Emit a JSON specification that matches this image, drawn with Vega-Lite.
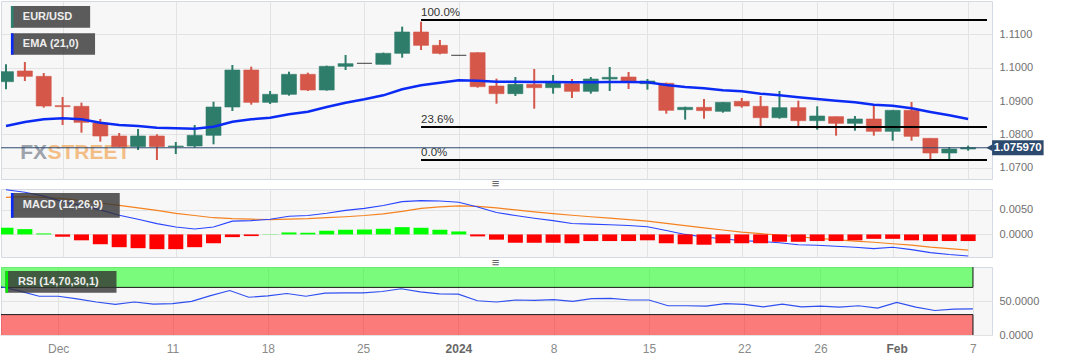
{
  "$schema": "https://vega.github.io/schema/vega-lite/v6.json",
  "padding": 0,
  "background": "white",
  "spacing": 10,
  "bounds": "flush",
  "config": {
    "font": "Liberation Sans",
    "view": {"fill": "#f7f7f7", "stroke": "#d4d9e4", "strokeWidth": 1},
    "axis": {"domain": false, "ticks": false, "labelFont": "Liberation Sans", "labelColor": "#707070", "labelFontSize": 11, "gridColor": "#e3e3e3", "gridWidth": 1}
  },
  "datasets": {
    "k": [
      {"i":0,"o":1.0958,"h":1.1010,"l":1.0935,"c":1.0988,"ema":1.0825,"macd":0.0091,"sig":0.00755,"hist":0.00136,"rsi":71},
      {"i":1,"o":1.0990,"h":1.1017,"l":1.0960,"c":1.0974,"ema":1.0837,"macd":0.0086,"sig":0.0077,"hist":0.00108,"rsi":64.5},
      {"i":2,"o":1.0974,"h":1.0984,"l":1.0880,"c":1.0885,"ema":1.0845,"macd":0.0078,"sig":0.00755,"hist":0.0002,"rsi":57},
      {"i":3,"o":1.0886,"h":1.0912,"l":1.0828,"c":1.0883,"ema":1.0848,"macd":0.0067,"sig":0.0073,"hist":-0.00047,"rsi":57},
      {"i":4,"o":1.0884,"h":1.0895,"l":1.0805,"c":1.0836,"ema":1.0845,"macd":0.0059,"sig":0.0069,"hist":-0.0012,"rsi":53},
      {"i":5,"o":1.0834,"h":1.0846,"l":1.0778,"c":1.0795,"ema":1.0835,"macd":0.0050,"sig":0.0064,"hist":-0.0020,"rsi":48.5},
      {"i":6,"o":1.0795,"h":1.0804,"l":1.0762,"c":1.0763,"ema":1.0828,"macd":0.0039,"sig":0.0059,"hist":-0.0026,"rsi":45},
      {"i":7,"o":1.0763,"h":1.0816,"l":1.0753,"c":1.0795,"ema":1.0825,"macd":0.0031,"sig":0.0054,"hist":-0.0028,"rsi":48.5},
      {"i":8,"o":1.0795,"h":1.0800,"l":1.0723,"c":1.0763,"ema":1.0820,"macd":0.0022,"sig":0.0049,"hist":-0.0030,"rsi":45.5},
      {"i":9,"o":1.0763,"h":1.0777,"l":1.0741,"c":1.0765,"ema":1.0818,"macd":0.0015,"sig":0.0043,"hist":-0.0030,"rsi":46},
      {"i":10,"o":1.0765,"h":1.0828,"l":1.0760,"c":1.0797,"ema":1.0817,"macd":0.0011,"sig":0.00385,"hist":-0.0026,"rsi":49.5},
      {"i":11,"o":1.0797,"h":1.0898,"l":1.0770,"c":1.0882,"ema":1.0823,"macd":0.0015,"sig":0.0034,"hist":-0.0018,"rsi":58},
      {"i":12,"o":1.0882,"h":1.1008,"l":1.0870,"c":1.0993,"ema":1.0838,"macd":0.0027,"sig":0.0032,"hist":-0.00055,"rsi":65.4},
      {"i":13,"o":1.0993,"h":1.1003,"l":1.0889,"c":1.0896,"ema":1.0845,"macd":0.0028,"sig":0.0031,"hist":-0.00034,"rsi":55.5},
      {"i":14,"o":1.0896,"h":1.0930,"l":1.0891,"c":1.0920,"ema":1.0850,"macd":0.0031,"sig":0.0030,"hist":0.00005,"rsi":57.5},
      {"i":15,"o":1.0920,"h":1.0988,"l":1.0916,"c":1.0980,"ema":1.0860,"macd":0.0037,"sig":0.0031,"hist":0.0004,"rsi":61},
      {"i":16,"o":1.0980,"h":1.0985,"l":1.0930,"c":1.0933,"ema":1.0868,"macd":0.00385,"sig":0.0032,"hist":0.00034,"rsi":57},
      {"i":17,"o":1.0933,"h":1.1006,"l":1.0931,"c":1.1004,"ema":1.0882,"macd":0.0043,"sig":0.0034,"hist":0.00075,"rsi":61.5},
      {"i":18,"o":1.1004,"h":1.1038,"l":1.0993,"c":1.1012,"ema":1.0895,"macd":0.0049,"sig":0.0036,"hist":0.00095,"rsi":62},
      {"i":19,"o":1.1013,"h":1.1013,"l":1.1013,"c":1.1013,"ema":1.0905,"macd":0.0053,"sig":0.00385,"hist":0.0010,"rsi":62},
      {"i":20,"o":1.1010,"h":1.1045,"l":1.1010,"c":1.1043,"ema":1.0917,"macd":0.0059,"sig":0.0042,"hist":0.00115,"rsi":64},
      {"i":21,"o":1.1043,"h":1.1123,"l":1.1030,"c":1.1107,"ema":1.0935,"macd":0.00668,"sig":0.0047,"hist":0.00148,"rsi":68},
      {"i":22,"o":1.1107,"h":1.1138,"l":1.1053,"c":1.1067,"ema":1.0947,"macd":0.00688,"sig":0.0053,"hist":0.00135,"rsi":63.5},
      {"i":23,"o":1.1067,"h":1.1083,"l":1.1040,"c":1.1043,"ema":1.0955,"macd":0.0068,"sig":0.0056,"hist":0.00095,"rsi":60.5},
      {"i":24,"o":1.1037,"h":1.1037,"l":1.1037,"c":1.1037,"ema":1.0962,"macd":0.00654,"sig":0.0058,"hist":0.0006,"rsi":60},
      {"i":25,"o":1.1045,"h":1.1046,"l":1.0940,"c":1.0943,"ema":1.0961,"macd":0.0056,"sig":0.0057,"hist":-0.0004,"rsi":50.4},
      {"i":26,"o":1.0945,"h":1.0967,"l":1.0892,"c":1.0922,"ema":1.0958,"macd":0.00445,"sig":0.0054,"hist":-0.00107,"rsi":48.5},
      {"i":27,"o":1.0922,"h":1.0972,"l":1.0915,"c":1.0950,"ema":1.0958,"macd":0.00385,"sig":0.0050,"hist":-0.0017,"rsi":51.5},
      {"i":28,"o":1.0950,"h":1.0996,"l":1.0877,"c":1.0940,"ema":1.0957,"macd":0.0033,"sig":0.0046,"hist":-0.0017,"rsi":51},
      {"i":29,"o":1.0940,"h":1.0978,"l":1.0922,"c":1.0955,"ema":1.0957,"macd":0.0028,"sig":0.00425,"hist":-0.0017,"rsi":52},
      {"i":30,"o":1.0952,"h":1.0966,"l":1.0909,"c":1.0929,"ema":1.0956,"macd":0.00223,"sig":0.0039,"hist":-0.0018,"rsi":49.5},
      {"i":31,"o":1.0929,"h":1.0972,"l":1.0922,"c":1.0966,"ema":1.0956,"macd":0.0021,"sig":0.0036,"hist":-0.00135,"rsi":53.4},
      {"i":32,"o":1.0966,"h":1.1002,"l":1.0930,"c":1.0971,"ema":1.0957,"macd":0.00196,"sig":0.0033,"hist":-0.00135,"rsi":54},
      {"i":33,"o":1.0972,"h":1.0987,"l":1.0936,"c":1.0957,"ema":1.0957,"macd":0.00182,"sig":0.0030,"hist":-0.00135,"rsi":51.5},
      {"i":34,"o":1.0952,"h":1.0966,"l":1.0934,"c":1.0960,"ema":1.0956,"macd":0.00155,"sig":0.0027,"hist":-0.0012,"rsi":51.5},
      {"i":35,"o":1.0953,"h":1.0955,"l":1.0862,"c":1.0872,"ema":1.0948,"macd":0.00081,"sig":0.00225,"hist":-0.0018,"rsi":43},
      {"i":36,"o":1.0874,"h":1.0883,"l":1.0844,"c":1.0881,"ema":1.0942,"macd":0.0,"sig":0.0018,"hist":-0.0020,"rsi":43},
      {"i":37,"o":1.0881,"h":1.0906,"l":1.0847,"c":1.0871,"ema":1.0938,"macd":-0.00054,"sig":0.00135,"hist":-0.0021,"rsi":42.5},
      {"i":38,"o":1.0869,"h":1.0897,"l":1.0865,"c":1.0896,"ema":1.0932,"macd":-0.00088,"sig":0.0009,"hist":-0.0018,"rsi":46},
      {"i":39,"o":1.0899,"h":1.0909,"l":1.0880,"c":1.0885,"ema":1.0929,"macd":-0.00128,"sig":0.00047,"hist":-0.0018,"rsi":45},
      {"i":40,"o":1.0884,"h":1.0915,"l":1.0825,"c":1.0850,"ema":1.0922,"macd":-0.00142,"sig":0.00016,"hist":-0.0018,"rsi":41.4},
      {"i":41,"o":1.0850,"h":1.0930,"l":1.0847,"c":1.0880,"ema":1.0917,"macd":-0.00169,"sig":-0.00014,"hist":-0.0015,"rsi":45.5},
      {"i":42,"o":1.0880,"h":1.0901,"l":1.0825,"c":1.0841,"ema":1.0911,"macd":-0.0021,"sig":-0.00047,"hist":-0.0015,"rsi":41.4},
      {"i":43,"o":1.0841,"h":1.0884,"l":1.0814,"c":1.0855,"ema":1.0906,"macd":-0.0022,"sig":-0.0008,"hist":-0.00135,"rsi":42.5},
      {"i":44,"o":1.0853,"h":1.0853,"l":1.0796,"c":1.0833,"ema":1.0901,"macd":-0.0024,"sig":-0.00107,"hist":-0.00135,"rsi":41},
      {"i":45,"o":1.0833,"h":1.0855,"l":1.0811,"c":1.0846,"ema":1.0896,"macd":-0.0026,"sig":-0.00135,"hist":-0.0012,"rsi":43},
      {"i":46,"o":1.0846,"h":1.0885,"l":1.0796,"c":1.0809,"ema":1.0889,"macd":-0.0029,"sig":-0.0016,"hist":-0.0009,"rsi":39.5},
      {"i":47,"o":1.0809,"h":1.0873,"l":1.0781,"c":1.0872,"ema":1.0886,"macd":-0.0026,"sig":-0.0019,"hist":-0.0009,"rsi":48},
      {"i":48,"o":1.0872,"h":1.0897,"l":1.0781,"c":1.0794,"ema":1.0878,"macd":-0.0031,"sig":-0.0022,"hist":-0.0012,"rsi":41},
      {"i":49,"o":1.0788,"h":1.0788,"l":1.0726,"c":1.0744,"ema":1.0867,"macd":-0.0037,"sig":-0.0026,"hist":-0.00135,"rsi":36},
      {"i":50,"o":1.0744,"h":1.0762,"l":1.0726,"c":1.0756,"ema":1.0857,"macd":-0.0041,"sig":-0.0029,"hist":-0.00135,"rsi":38},
      {"i":51,"o":1.0756,"h":1.0766,"l":1.0751,"c":1.0760,"ema":1.0846,"macd":-0.0044,"sig":-0.0032,"hist":-0.00135,"rsi":38.4}
    ],
    "fib": [
      {"lab": "100.0%", "v": 1.1143},
      {"lab": "23.6%", "v": 1.0822},
      {"lab": "0.0%", "v": 1.0723}
    ],
    "lv": [
      {"lv": 70, "top": 100},
      {"lv": 30, "top": 0}
    ]
  },
  "vconcat": [
    {
      "width": 991,
      "height": 178,
      "data": {"name": "k"},
      "layer": [
        {
          "data": {"values": [{"t": "FX"}]},
          "mark": {"type": "text", "font": "Liberation Sans", "fontWeight": "bold", "fontSize": 21, "align": "left", "baseline": "alphabetic", "color": "#9ea3ab"},
          "encoding": {
            "x": {"datum": 0.75, "type": "quantitative", "title": null, "scale": {"domain": [0, 52], "nice": false, "zero": false},
                  "axis": {"values": [3, 9, 14, 19, 24, 29, 34, 39, 43, 47, 51], "labels": false, "grid": true, "title": null}},
            "y": {"datum": 1.0726, "type": "quantitative", "title": null, "scale": {"domain": [1.0666, 1.12], "nice": false, "zero": false},
                  "axis": {"orient": "right", "values": [1.07, 1.08, 1.09, 1.1, 1.11], "format": ".4f", "grid": true, "labelPadding": 7, "title": null}},
            "text": {"field": "t"}
          }
        },
        {
          "data": {"values": [{"t": "STREET"}]},
          "mark": {"type": "text", "font": "Liberation Sans", "fontWeight": "bold", "fontSize": 21, "align": "left", "baseline": "alphabetic", "color": "#f3bd86"},
          "encoding": {
            "x": {"datum": 2.2, "type": "quantitative", "title": null, "scale": {"domain": [0, 52], "nice": false, "zero": false}},
            "y": {"datum": 1.0726, "type": "quantitative", "title": null, "scale": {"domain": [1.0666, 1.12], "nice": false, "zero": false}},
            "text": {"field": "t"}
          }
        },
        {
          "mark": {"type": "rule", "strokeWidth": 2, "clip": true},
          "encoding": {
            "x": {"field": "i", "type": "quantitative", "title": null, "scale": {"domain": [0, 52], "nice": false, "zero": false}},
            "y": {"field": "l", "type": "quantitative", "title": null, "scale": {"domain": [1.0666, 1.12], "nice": false, "zero": false}},
            "y2": {"field": "h"},
            "color": {"condition": [{"test": "datum.c > datum.o", "value": "#2e7d6b"}, {"test": "datum.c < datum.o", "value": "#d5574a"}], "value": "#333333"}
          }
        },
        {
          "mark": {"type": "bar", "size": 15, "clip": true, "strokeWidth": 1, "strokeOpacity": 0.6},
          "encoding": {
            "x": {"field": "i", "type": "quantitative", "title": null, "scale": {"domain": [0, 52], "nice": false, "zero": false}},
            "y": {"field": "o", "type": "quantitative", "title": null, "scale": {"domain": [1.0666, 1.12], "nice": false, "zero": false}},
            "y2": {"field": "c"},
            "color": {"condition": [{"test": "datum.c > datum.o", "value": "#2e7d6b"}, {"test": "datum.c < datum.o", "value": "#d5574a"}], "value": "#333333"},
            "stroke": {"condition": [{"test": "datum.c > datum.o", "value": "#2e7d6b"}, {"test": "datum.c < datum.o", "value": "#d5574a"}], "value": "#333333"}
          }
        },
        {
          "mark": {"type": "line", "color": "#0b2bf5", "strokeWidth": 2.5, "clip": true},
          "encoding": {
            "x": {"field": "i", "type": "quantitative", "title": null, "scale": {"domain": [0, 52], "nice": false, "zero": false}},
            "y": {"field": "ema", "type": "quantitative", "title": null, "scale": {"domain": [1.0666, 1.12], "nice": false, "zero": false}}
          }
        },
        {
          "data": {"name": "fib"},
          "mark": {"type": "rule", "color": "#000000", "strokeWidth": 2},
          "encoding": {
            "x": {"datum": 22, "type": "quantitative", "title": null, "scale": {"domain": [0, 52], "nice": false, "zero": false}},
            "x2": {"datum": 52},
            "y": {"field": "v", "type": "quantitative", "title": null, "scale": {"domain": [1.0666, 1.12], "nice": false, "zero": false}}
          }
        },
        {
          "data": {"name": "fib"},
          "mark": {"type": "text", "align": "left", "baseline": "bottom", "dy": -2, "fontSize": 11.5, "color": "#333333"},
          "encoding": {
            "x": {"datum": 22, "type": "quantitative", "title": null, "scale": {"domain": [0, 52], "nice": false, "zero": false}},
            "y": {"field": "v", "type": "quantitative", "title": null, "scale": {"domain": [1.0666, 1.12], "nice": false, "zero": false}},
            "text": {"field": "lab"}
          }
        },
        {
          "data": {"values": [{"p": 1.07597, "t": "1.075970"}]},
          "mark": {"type": "rule", "color": "#2c4a6e", "strokeWidth": 1},
          "encoding": {
            "y": {"field": "p", "type": "quantitative", "title": null, "scale": {"domain": [1.0666, 1.12], "nice": false, "zero": false}}
          }
        },
        {
          "data": {"values": [{"p": 1.07597, "t": "1.075970"}]},
          "mark": {"type": "rect", "color": "#2c4a6e"},
          "encoding": {
            "x": {"datum": 52.27, "type": "quantitative", "title": null, "scale": {"domain": [0, 52], "nice": false, "zero": false}},
            "x2": {"datum": 55.0},
            "y": {"datum": 1.0782, "type": "quantitative", "title": null, "scale": {"domain": [1.0666, 1.12], "nice": false, "zero": false}},
            "y2": {"datum": 1.07375}
          }
        },
        {
          "data": {"values": [{"p": 1.07597, "t": "1.075970"}]},
          "mark": {"type": "point", "shape": "triangle-left", "filled": true, "size": 45, "color": "#2c4a6e", "opacity": 1},
          "encoding": {
            "x": {"datum": 52.12, "type": "quantitative", "title": null, "scale": {"domain": [0, 52], "nice": false, "zero": false}},
            "y": {"field": "p", "type": "quantitative", "title": null, "scale": {"domain": [1.0666, 1.12], "nice": false, "zero": false}}
          }
        },
        {
          "data": {"values": [{"p": 1.07597, "t": "1.075970"}]},
          "mark": {"type": "text", "color": "#ffffff", "fontWeight": "bold", "fontSize": 11.5, "align": "center", "baseline": "middle"},
          "encoding": {
            "x": {"datum": 53.63, "type": "quantitative", "title": null, "scale": {"domain": [0, 52], "nice": false, "zero": false}},
            "y": {"field": "p", "type": "quantitative", "title": null, "scale": {"domain": [1.0666, 1.12], "nice": false, "zero": false}},
            "text": {"field": "t"}
          }
        },
        {
          "data": {"values": [{"t": "EUR/USD"}]},
          "mark": {"type": "rect", "color": "#333333", "opacity": 0.8},
          "encoding": {
            "x": {"datum": 0.262, "type": "quantitative", "title": null, "scale": {"domain": [0, 52], "nice": false, "zero": false}},
            "x2": {"datum": 4.46},
            "y": {"datum": 1.1185, "type": "quantitative", "title": null, "scale": {"domain": [1.0666, 1.12], "nice": false, "zero": false}},
            "y2": {"datum": 1.11199}
          }
        },
        {
          "data": {"values": [{"t": "EUR/USD"}]},
          "mark": {"type": "rect", "color": "#2e8070"},
          "encoding": {
            "x": {"datum": 0.262, "type": "quantitative", "title": null, "scale": {"domain": [0, 52], "nice": false, "zero": false}},
            "x2": {"datum": 0.40},
            "y": {"datum": 1.1185, "type": "quantitative", "title": null, "scale": {"domain": [1.0666, 1.12], "nice": false, "zero": false}},
            "y2": {"datum": 1.11199}
          }
        },
        {
          "data": {"values": [{"t": "EUR/USD"}]},
          "mark": {"type": "text", "color": "#eeeeee", "fontWeight": "bold", "fontSize": 11, "align": "left", "baseline": "middle"},
          "encoding": {
            "x": {"datum": 0.89, "type": "quantitative", "title": null, "scale": {"domain": [0, 52], "nice": false, "zero": false}},
            "y": {"datum": 1.1152, "type": "quantitative", "title": null, "scale": {"domain": [1.0666, 1.12], "nice": false, "zero": false}},
            "text": {"field": "t"}
          }
        },
        {
          "data": {"values": [{"t": "EMA (21,0)"}]},
          "mark": {"type": "rect", "color": "#333333", "opacity": 0.8},
          "encoding": {
            "x": {"datum": 0.262, "type": "quantitative", "title": null, "scale": {"domain": [0, 52], "nice": false, "zero": false}},
            "x2": {"datum": 4.72},
            "y": {"datum": 1.11031, "type": "quantitative", "title": null, "scale": {"domain": [1.0666, 1.12], "nice": false, "zero": false}},
            "y2": {"datum": 1.1039}
          }
        },
        {
          "data": {"values": [{"t": "EMA (21,0)"}]},
          "mark": {"type": "rect", "color": "#0b2bf5"},
          "encoding": {
            "x": {"datum": 0.262, "type": "quantitative", "title": null, "scale": {"domain": [0, 52], "nice": false, "zero": false}},
            "x2": {"datum": 0.40},
            "y": {"datum": 1.11031, "type": "quantitative", "title": null, "scale": {"domain": [1.0666, 1.12], "nice": false, "zero": false}},
            "y2": {"datum": 1.1039}
          }
        },
        {
          "data": {"values": [{"t": "EMA (21,0)"}]},
          "mark": {"type": "text", "color": "#eeeeee", "fontWeight": "bold", "fontSize": 11, "align": "left", "baseline": "middle"},
          "encoding": {
            "x": {"datum": 0.89, "type": "quantitative", "title": null, "scale": {"domain": [0, 52], "nice": false, "zero": false}},
            "y": {"datum": 1.10711, "type": "quantitative", "title": null, "scale": {"domain": [1.0666, 1.12], "nice": false, "zero": false}},
            "text": {"field": "t"}
          }
        }
      ]
    },
    {
      "width": 991,
      "height": 68,
      "data": {"name": "k"},
      "layer": [
        {
          "mark": {"type": "line", "color": "#f5821f", "strokeWidth": 1.2, "clip": true},
          "encoding": {
            "x": {"field": "i", "type": "quantitative", "title": null, "scale": {"domain": [0, 52], "nice": false, "zero": false},
                  "axis": {"values": [3, 9, 14, 19, 24, 29, 34, 39, 43, 47, 51], "labels": false, "grid": true, "title": null}},
            "y": {"field": "sig", "type": "quantitative", "title": null, "scale": {"domain": [-0.0046, 0.00925], "nice": false, "zero": false},
                  "axis": {"orient": "right", "values": [0, 0.005], "format": ".4f", "grid": true, "labelPadding": 7, "title": null}}
          }
        },
        {
          "mark": {"type": "line", "color": "#2a44ff", "strokeWidth": 1.1, "clip": true},
          "encoding": {
            "x": {"field": "i", "type": "quantitative", "title": null, "scale": {"domain": [0, 52], "nice": false, "zero": false}},
            "y": {"field": "macd", "type": "quantitative", "title": null, "scale": {"domain": [-0.0046, 0.00925], "nice": false, "zero": false}}
          }
        },
        {
          "mark": {"type": "bar", "size": 15, "clip": true},
          "encoding": {
            "x": {"field": "i", "type": "quantitative", "title": null, "scale": {"domain": [0, 52], "nice": false, "zero": false}},
            "y": {"field": "hist", "type": "quantitative", "title": null, "scale": {"domain": [-0.0046, 0.00925], "nice": false, "zero": false}},
            "y2": {"datum": 0},
            "color": {"condition": {"test": "datum.hist > 0", "value": "#00ff00"}, "value": "#ff0000"}
          }
        },
        {
          "data": {"values": [{"t": "MACD (12,26,9)"}]},
          "mark": {"type": "rect", "color": "#333333", "opacity": 0.8},
          "encoding": {
            "x": {"datum": 0.262, "type": "quantitative", "title": null, "scale": {"domain": [0, 52], "nice": false, "zero": false}},
            "x2": {"datum": 6.03},
            "y": {"datum": 0.00843, "type": "quantitative", "title": null, "scale": {"domain": [-0.0046, 0.00925], "nice": false, "zero": false}},
            "y2": {"datum": 0.0034}
          }
        },
        {
          "data": {"values": [{"t": "MACD (12,26,9)"}]},
          "mark": {"type": "rect", "color": "#0b2bf5"},
          "encoding": {
            "x": {"datum": 0.262, "type": "quantitative", "title": null, "scale": {"domain": [0, 52], "nice": false, "zero": false}},
            "x2": {"datum": 0.40},
            "y": {"datum": 0.00843, "type": "quantitative", "title": null, "scale": {"domain": [-0.0046, 0.00925], "nice": false, "zero": false}},
            "y2": {"datum": 0.0034}
          }
        },
        {
          "data": {"values": [{"t": "MACD (12,26,9)"}]},
          "mark": {"type": "text", "color": "#eeeeee", "fontWeight": "bold", "fontSize": 11, "align": "left", "baseline": "middle"},
          "encoding": {
            "x": {"datum": 0.89, "type": "quantitative", "title": null, "scale": {"domain": [0, 52], "nice": false, "zero": false}},
            "y": {"datum": 0.00593, "type": "quantitative", "title": null, "scale": {"domain": [-0.0046, 0.00925], "nice": false, "zero": false}},
            "text": {"field": "t"}
          }
        },
        {
          "data": {"values": [{"t": "≡"}]},
          "mark": {"type": "text", "color": "#666666", "fontSize": 13, "align": "center", "baseline": "middle"},
          "encoding": {
            "x": {"datum": 25.95, "type": "quantitative", "title": null, "scale": {"domain": [0, 52], "nice": false, "zero": false}},
            "y": {"datum": 0.01027, "type": "quantitative", "title": null, "scale": {"domain": [-0.0046, 0.00925], "nice": false, "zero": false}},
            "text": {"field": "t"}
          }
        }
      ]
    },
    {
      "width": 991,
      "height": 68,
      "data": {"name": "k"},
      "layer": [
        {
          "data": {"name": "lv"},
          "mark": {"type": "rect", "opacity": 0.5},
          "encoding": {
            "x": {"datum": 0, "type": "quantitative", "title": null, "scale": {"domain": [0, 52], "nice": false, "zero": false},
                  "axis": {"values": [3, 9, 14, 19, 24, 29, 34, 39, 43, 47, 51], "grid": true, "title": null, "labelPadding": 8, "labelFontSize": 12,
                           "labelExpr": "datum.value==3?'Dec':datum.value==9?'11':datum.value==14?'18':datum.value==19?'25':datum.value==24?'2024':datum.value==29?'8':datum.value==34?'15':datum.value==39?'22':datum.value==43?'26':datum.value==47?'Feb':datum.value==51?'7':''",
                           "labelFontWeight": {"condition": {"test": "datum.value==24 || datum.value==47", "value": "bold"}, "value": "normal"},
                           "labelColor": {"condition": {"test": "datum.value==24 || datum.value==47", "value": "#666666"}, "value": "#8a8a8a"}}},
            "x2": {"datum": 51},
            "y": {"field": "lv", "type": "quantitative", "title": null, "scale": {"domain": [0, 100], "nice": false, "zero": false},
                  "axis": {"orient": "right", "values": [0, 50], "format": ".4f", "grid": true, "labelPadding": 7, "title": null}},
            "y2": {"field": "top"},
            "color": {"condition": {"test": "datum.lv > 50", "value": "#00ff00"}, "value": "#ff0000"}
          }
        },
        {
          "data": {"name": "lv"},
          "mark": {"type": "rule", "color": "#1a1a1a", "strokeWidth": 1},
          "encoding": {
            "x": {"datum": 0, "type": "quantitative", "title": null, "scale": {"domain": [0, 52], "nice": false, "zero": false}},
            "x2": {"datum": 51},
            "y": {"field": "lv", "type": "quantitative", "title": null, "scale": {"domain": [0, 100], "nice": false, "zero": false}}
          }
        },
        {
          "data": {"name": "lv"},
          "mark": {"type": "rule", "color": "#1a1a1a", "strokeWidth": 1},
          "encoding": {
            "x": {"datum": 51, "type": "quantitative", "title": null, "scale": {"domain": [0, 52], "nice": false, "zero": false}},
            "y": {"field": "lv", "type": "quantitative", "title": null, "scale": {"domain": [0, 100], "nice": false, "zero": false}},
            "y2": {"field": "top"}
          }
        },
        {
          "mark": {"type": "line", "color": "#3050f0", "strokeWidth": 1.2, "clip": true},
          "encoding": {
            "x": {"field": "i", "type": "quantitative", "title": null, "scale": {"domain": [0, 52], "nice": false, "zero": false}},
            "y": {"field": "rsi", "type": "quantitative", "title": null, "scale": {"domain": [0, 100], "nice": false, "zero": false}}
          }
        },
        {
          "data": {"values": [{"t": "RSI (14,70,30,1)"}]},
          "mark": {"type": "rect", "color": "#333333", "opacity": 0.8},
          "encoding": {
            "x": {"datum": 0.236, "type": "quantitative", "title": null, "scale": {"domain": [0, 52], "nice": false, "zero": false}},
            "x2": {"datum": 6.06},
            "y": {"datum": 94.1, "type": "quantitative", "title": null, "scale": {"domain": [0, 100], "nice": false, "zero": false}},
            "y2": {"datum": 62.2}
          }
        },
        {
          "data": {"values": [{"t": "RSI (14,70,30,1)"}]},
          "mark": {"type": "rect", "color": "#00ee00"},
          "encoding": {
            "x": {"datum": 0.236, "type": "quantitative", "title": null, "scale": {"domain": [0, 52], "nice": false, "zero": false}},
            "x2": {"datum": 0.37},
            "y": {"datum": 94.1, "type": "quantitative", "title": null, "scale": {"domain": [0, 100], "nice": false, "zero": false}},
            "y2": {"datum": 62.2}
          }
        },
        {
          "data": {"values": [{"t": "RSI (14,70,30,1)"}]},
          "mark": {"type": "text", "color": "#eeeeee", "fontWeight": "bold", "fontSize": 11, "align": "left", "baseline": "middle"},
          "encoding": {
            "x": {"datum": 0.89, "type": "quantitative", "title": null, "scale": {"domain": [0, 52], "nice": false, "zero": false}},
            "y": {"datum": 77.9, "type": "quantitative", "title": null, "scale": {"domain": [0, 100], "nice": false, "zero": false}},
            "text": {"field": "t"}
          }
        },
        {
          "data": {"values": [{"t": "≡"}]},
          "mark": {"type": "text", "color": "#666666", "fontSize": 13, "align": "center", "baseline": "middle"},
          "encoding": {
            "x": {"datum": 25.95, "type": "quantitative", "title": null, "scale": {"domain": [0, 52], "nice": false, "zero": false}},
            "y": {"datum": 106, "type": "quantitative", "title": null, "scale": {"domain": [0, 100], "nice": false, "zero": false}},
            "text": {"field": "t"}
          }
        }
      ]
    }
  ]
}
